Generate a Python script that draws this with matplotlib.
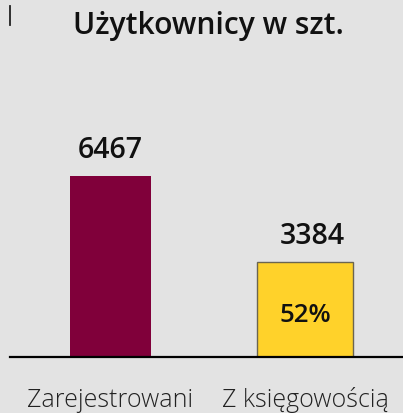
import matplotlib
matplotlib.use("Agg")
import matplotlib.pyplot as plt
from matplotlib.lines import Line2D

categories = ["Zarejestrowani", "Z księgowością"]
values = [6467, 3384]
inner_labels = ["", "52%"]
title = "Użytkownicy w szt."

bar_colors = ["#80003A", "#FFD22A"]
edge_colors = ["#80003A", "#6B6550"]
edge_widths = [0, 1.0]
bar_widths = [0.416, 0.494]
label_dx = [0, 5]  # points

W, H = 403, 413
PX = 72 / 100  # points per pixel
fig = plt.figure(figsize=(W / 100, H / 100), dpi=100)
bg = "#E3E3E3"
fig.patch.set_facecolor(bg)

left, right = 10 / W, 1.0
bottom, top = (H - 357) / H, (H - 60) / H
ax = fig.add_axes([left, bottom, right - left, top - bottom])
ax.set_facecolor(bg)

x = list(range(len(categories)))
bars = ax.bar(x, values, width=bar_widths, color=bar_colors,
              edgecolor=edge_colors, linewidth=edge_widths, zorder=2)

ax.set_xlim(-0.517, 1.504)
ax.set_ylim(0, 10612)

for s in ["top", "right", "left"]:
    ax.spines[s].set_visible(False)
ax.spines["bottom"].set_linewidth(1.6)
ax.spines["bottom"].set_color("#000000")
ax.spines["bottom"].set_zorder(3)
ax.set_yticks([])
ax.set_xticks(x)
ax.set_xticklabels(categories, fontsize=18, fontfamily="Open Sans",
                   fontweight="light", color="#222222")
for lab in ax.get_xticklabels():
    lab.set_verticalalignment("baseline")
ax.tick_params(axis="x", length=0, pad=50 * PX)

for i, (b, v) in enumerate(zip(bars, values)):
    cx = b.get_x() + b.get_width() / 2
    ax.annotate(str(v), (cx, v),
                xytext=(label_dx[i], 18.5 * PX), textcoords="offset points",
                ha="center", va="baseline", fontsize=20.5, fontweight="semibold",
                fontfamily="Open Sans", color="#111111")
    if inner_labels[i]:
        ax.annotate(inner_labels[i], (cx, 0),
                    xytext=(0, 35 * PX), textcoords="offset points",
                    ha="center", va="baseline", fontsize=18.5, fontweight="semibold",
                    fontfamily="Open Sans", color="#111111")

fig.text(208 / W, 1 - 34 / H, title, ha="center", va="baseline",
         fontsize=21.6, fontweight="semibold", fontfamily="Open Sans", color="#111111")

fig.add_artist(Line2D([9.5 / W, 9.5 / W], [1 - 6 / H, 1 - 25 / H],
                      transform=fig.transFigure, color="#222222", linewidth=1.3))

fig.savefig("out.png", dpi=100, facecolor=bg)
